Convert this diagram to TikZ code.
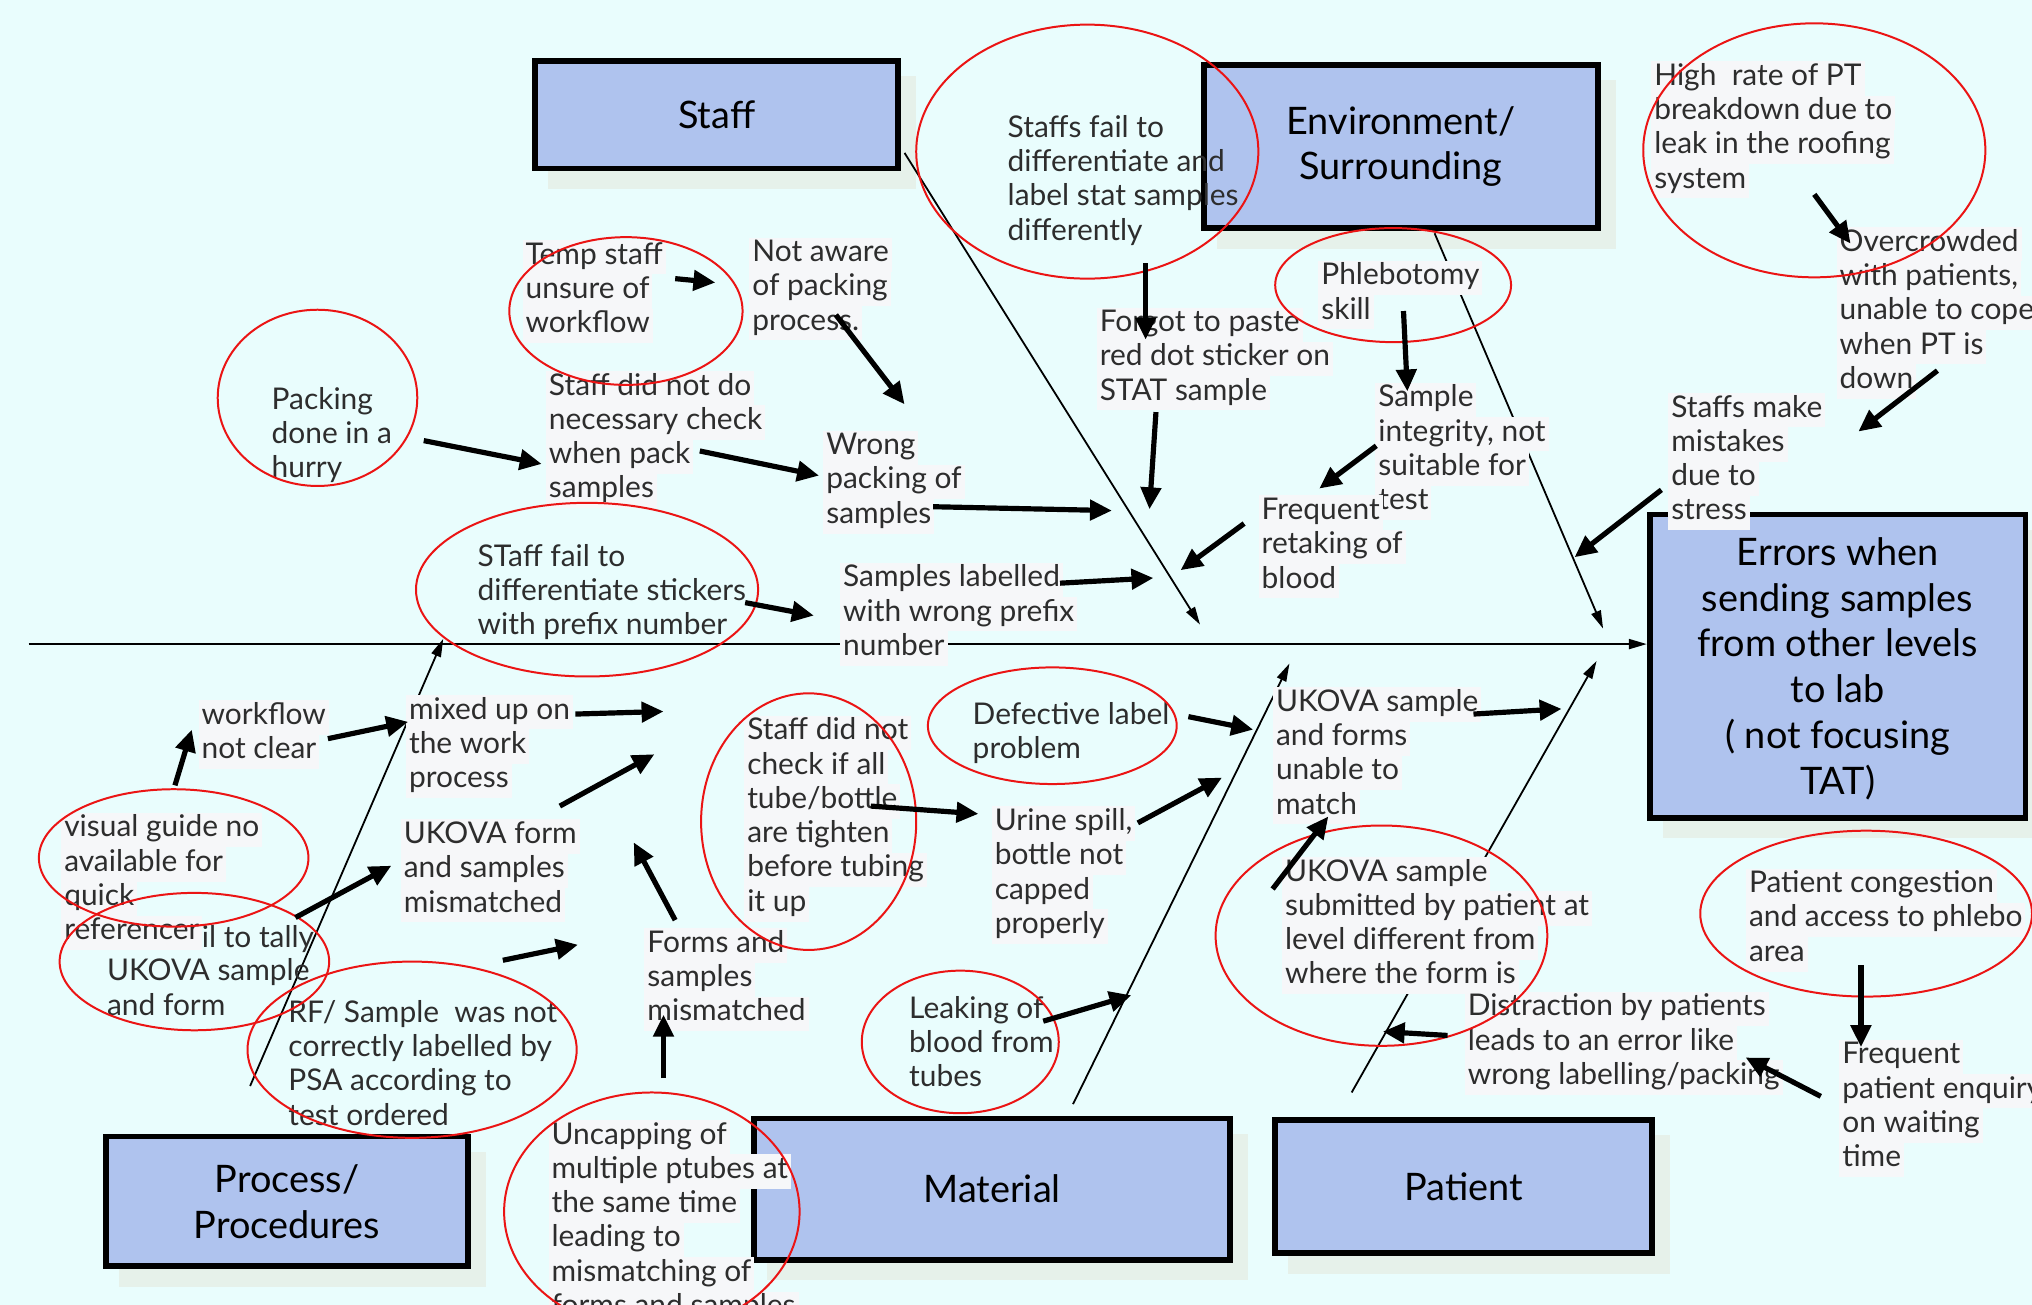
\documentclass[tikz,border=0pt]{standalone}
\usepackage{fontspec}
\setmainfont{Lato}
\usetikzlibrary{arrows.meta,fit}
\definecolor{bgc}{RGB}{233,253,253}
\definecolor{boxc}{RGB}{175,195,238}
\definecolor{shc}{RGB}{230,241,234}
\definecolor{lg}{RGB}{246,247,249}
\definecolor{tc}{RGB}{45,45,45}
\definecolor{rc}{RGB}{235,20,20}
\setlength\fboxsep{0pt}
\newcommand\fs{\fontsize{15}{17.2}\selectfont}
\newcommand\bfs{\fontsize{19}{23}\selectfont}
\newcommand\cb[1]{\colorbox{lg}{\strut\hspace{1.5pt}#1\hspace{1.5pt}}}
\newcommand\nb[1]{\strut\hspace{1.5pt}#1\hspace{1.5pt}}
\begin{document}
\begin{tikzpicture}[x=0.65pt,y=-0.65pt,
 txt/.style={anchor=north west,inner sep=0pt,align=left,font=\fs,text=tc},
 mbox/.style={draw=black,line width=2.9pt,fill=boxc,inner sep=0pt},
 shad/.style={fill=shc,draw=none},
 boxtxt/.style={font=\bfs,align=center,text=black},
 bone/.style={draw=black,line width=0.9pt,-{Triangle[length=9pt,width=5pt]}},
 thk/.style={draw=black,line width=2.6pt,-{Triangle[length=11pt,width=10pt]}},
 ring/.style={draw=rc,line width=1pt}]
\fill[bgc] (0,0) rectangle (1568,1007);
\useasboundingbox (0,0) rectangle (1568,1007);
% shadows
\foreach \a/\b/\c/\d in {411/45/695/132, 927/48/1235/178, 1271/395/1565/633, 80/875/363/979, 580/861/951/974, 982/862/1277/969}
  \fill[shc] (\a+12,\b+14) rectangle (\c+12,\d+14);
% main boxes
\node[mbox,fit={(413,47) (693,130)}] (staff) {};
\node[boxtxt] at (staff) {Staff};
\node[mbox,fit={(929,50) (1233,176)}] (env) {};
\node[boxtxt] at (env) {Environment/\\Surrounding};
\node[mbox,fit={(1273,397) (1563,631)}] (err) {};
\node[boxtxt] at (1418,516) {Errors when\\sending samples\\from other levels\\to lab\\( not focusing\\TAT)};
\node[mbox,fit={(82,877) (361,977)}] (proc) {};
\node[boxtxt] at (proc) {Process/\\Procedures};
\node[mbox,fit={(582,863) (949,972)}] (mat) {};
\node[boxtxt] at (mat) {Material};
\node[mbox,fit={(984,864) (1275,967)}] (pat) {};
\node[boxtxt] at (pat) {Patient};
% spine and bones
\coordinate (sp0) at (22,497);
\draw[bone,line width=1pt] (sp0) -- (err.west |- sp0);
\coordinate (bs1) at (698,118); \coordinate (be1) at (926,482);
\coordinate (bs2) at (1107,180); \coordinate (be2) at (1237,485);
\coordinate (bs3) at (193,838); \coordinate (be3) at (342,493);
\coordinate (bs4) at (828,852); \coordinate (be4) at (995,512);
\coordinate (bs5) at (1043,843); \coordinate (be5) at (1232,510);
\foreach \i in {1,...,5} \draw[bone] (bs\i) -- (be\i);
% texts
\begin{scope}[shift={(-3,3)}]
\node[txt] (t1) at (778,84) {\nb{Staffs fail to}\\\nb{differentiate and}\\\nb{label stat samples}\\\nb{differently}};
\node[txt] (t2) at (1277,44) {\cb{High\ \ rate of PT}\\\cb{breakdown due to}\\\cb{leak in the roofing}\\\cb{system}};
\node[txt] (t3) at (406,182) {\cb{Temp staff}\\\cb{unsure of}\\\cb{workflow}};
\node[txt] (t4) at (581,180) {\cb{Not aware}\\\cb{of packing}\\\cb{process.}};
\node[txt] (t5) at (210,294) {\nb{Packing}\\\nb{done in a}\\\nb{hurry}};
\node[txt] (t6) at (424,283) {\cb{Staff did not do}\\\cb{necessary check}\\\cb{when pack}\\\cb{samples}};
\node[txt] (t7) at (638,329) {\cb{Wrong}\\\cb{packing of}\\\cb{samples}};
\node[txt] (t8) at (849,234) {\cb{Forgot to paste}\\\cb{red dot sticker on}\\\cb{STAT sample}};
\node[txt] (t9) at (1020,198) {\cb{Phlebotomy}\\\cb{skill}};
\node[txt] (t10) at (1064,292) {\cb{Sample}\\\cb{integrity, not}\\\cb{suitable for}\\\cb{test}};
\node[txt] (t11) at (974,379) {\cb{Frequent}\\\cb{retaking of}\\\cb{blood}};
\node[txt] (t12) at (1420,172) {\cb{Overcrowded}\\\cb{with patients,}\\\cb{unable to cope}\\\cb{when PT is}\\\cb{down}};
\node[txt] (t13) at (1290,300) {\cb{Staffs make}\\\cb{mistakes}\\\cb{due to}\\\cb{stress}};
\node[txt] (t14) at (369,415) {\nb{STaff fail to}\\\nb{differentiate stickers}\\\nb{with prefix number}};
\node[txt] (t15) at (651,431) {\cb{Samples labelled}\\\cb{with wrong prefix}\\\cb{number}};
\node[txt] (t16) at (156,537) {\cb{workflow}\\\cb{not clear}};
\node[txt] (t17) at (316,533) {\cb{mixed up on}\\\cb{the work}\\\cb{process}};
\node[txt,anchor=north east] (t19a) at (248,709) {\nb{Fail to tally}};
\node[txt] (t19b) at (83,735) {\nb{UKOVA sample}\\\nb{and form}};
\node[txt] (t18) at (50,624) {\cb{visual guide no}\\\cb{available for}\\\cb{quick}\\\cb{referencer}};
\node[txt] (t20) at (312,629) {\cb{UKOVA form}\\\cb{and samples}\\\cb{mismatched}};
\node[txt] (t21) at (223,767) {\nb{RF/ Sample\ \ was not}\\\nb{correctly labelled by}\\\nb{PSA according to}\\\nb{test ordered}};
\node[txt] (t22) at (500,713) {\cb{Forms and}\\\cb{samples}\\\cb{mismatched}};
\node[txt] (t23) at (577,549) {\cb{Staff did not}\\\cb{check if all}\\\cb{tube/bottle}\\\cb{are tighten}\\\cb{before tubing}\\\cb{it up}};
\node[txt] (t24) at (751,537) {\nb{Defective label}\\\nb{problem}};
\node[txt] (t25) at (768,619) {\cb{Urine spill,}\\\cb{bottle not}\\\cb{capped}\\\cb{properly}};
\node[txt] (t26) at (702,764) {\nb{Leaking of}\\\nb{blood from}\\\nb{tubes}};
\node[txt] (t27) at (426,861) {\cb{Uncapping of}\\\cb{multiple ptubes at}\\\cb{the same time}\\\cb{leading to}\\\cb{mismatching of}\\\cb{forms and samples}};
\node[txt] (t28) at (985,527) {\cb{UKOVA sample}\\\cb{and forms}\\\cb{unable to}\\\cb{match}};
\node[txt] (t29) at (992,658) {\cb{UKOVA sample}\\\cb{submitted by patient at}\\\cb{level different from}\\\cb{where the form is}};
\node[txt] (t30) at (1133,762) {\cb{Distraction by patients}\\\cb{leads to an error like}\\\cb{wrong labelling/packing}};
\node[txt] (t31) at (1350,667) {\cb{Patient congestion}\\\cb{and access to phlebo}\\\cb{area}};
\node[txt] (t32) at (1422,799) {\cb{Frequent}\\\cb{patient enquiry}\\\cb{on waiting}\\\cb{time}};
\end{scope}
% red rings
\foreach \cx/\cy/\rx/\ry in {839/117/132/98, 1400/116/132/98, 483/240/90/57, 245/307/77/68, 1075/220/91/44,
  453/455/132/67, 812/560/96/45, 624/634/83/99, 134/662/104/53, 150/742/104/53, 318/810/127/68,
  503/935/114/92, 741/804/76/55, 1066/722/128/85, 1440/705/128/64}
  \draw[ring] (\cx,\cy) ellipse [x radius=\rx, y radius=\ry];
% thick arrows
\foreach \n/\sx/\sy/\ex/\ey in {a1/521/215/552/218, a2/645/243/698/312, a3/327/340/418/358, a4/540/348/632/367,
  a5/720/391/858/394, a6/575/465/628/475, a7/818/450/890/446, a8/884/203/884/262, a9/892/318/887/393,
  a10/1083/240/1086/302, a11/1062/344/1018/377, a12/960/404/911/440, a13/1400/150/1428/188,
  a14/1495/286/1434/333, a15/1282/378/1215/430, b1/135/606/148/563, b2/253/570/315/557,
  b3/444/551/512/549, b4/432/622/505/582, b5/228/708/302/668, b6/388/741/446/729, b7/512/832/512/783,
  b8/521/710/489/650, b9/672/622/755/628, b10/917/553/967/563, b11/878/635/943/600, b12/805/788/873/768,
  b13/1137/551/1205/547, b14/982/686/1025/630, b15/1117/799/1067/796, b16/1405/846/1347/816,
  b17/1436/745/1436/808}
 {\coordinate (\n s) at (\sx,\sy); \coordinate (\n e) at (\ex,\ey); \draw[thk] (\n s) -- (\n e);}
\end{tikzpicture}
\end{document}
